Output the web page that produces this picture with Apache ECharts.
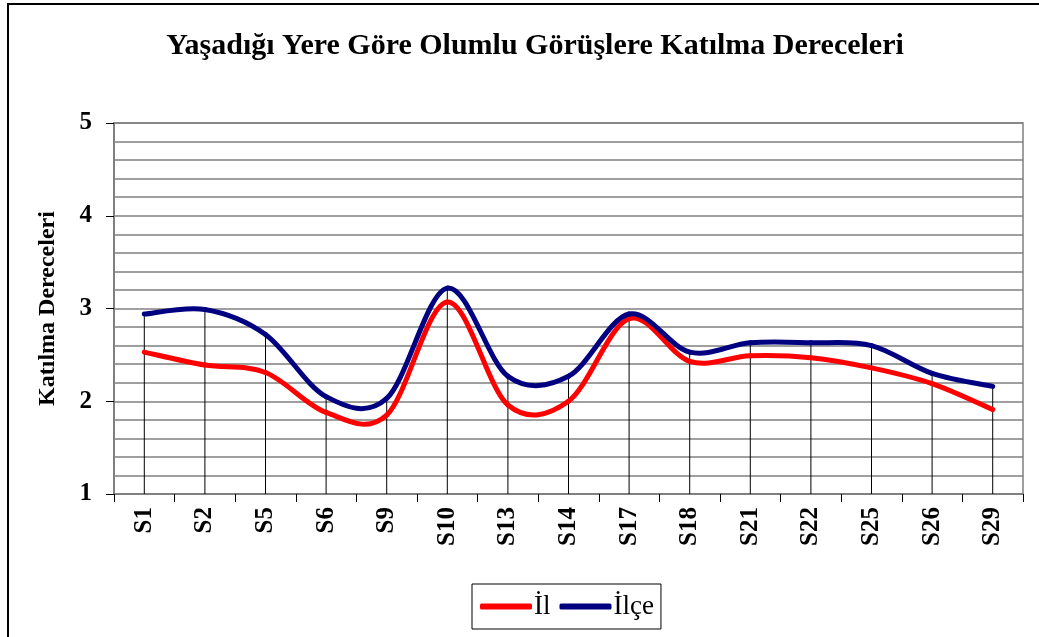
<!DOCTYPE html>
<html>
<head>
<meta charset="utf-8">
<style>
  html, body { margin: 0; padding: 0; background: #fff; }
  #chart { width: 1039px; height: 637px; }
</style>
<script src="https://cdn.jsdelivr.net/npm/echarts@6/dist/echarts.min.js"></script>
</head>
<body>
<div id="chart"></div>
<script>
// soru kodlari (x ekseni)
const categories = ['S1', 'S2', 'S5', 'S6', 'S9', 'S10', 'S13', 'S14', 'S17', 'S18', 'S21', 'S22', 'S25', 'S26', 'S29'];
// ortalama katilma dereceleri
const ilValues = [2.53, 2.39, 2.31, 1.88, 1.85, 3.07, 1.96, 2.0, 2.89, 2.43, 2.49, 2.47, 2.36, 2.19, 1.91];
const ilceValues = [2.94, 2.99, 2.72, 2.05, 2.03, 3.22, 2.27, 2.27, 2.94, 2.53, 2.63, 2.63, 2.6, 2.3, 2.16];

const serif = 'Liberation Serif';
const chart = echarts.init(document.getElementById('chart'));

// Excel tarzi yumusatma: her parca icin komsu noktalardan bezier egrisi
function smoothLine(values, color) {
    const n = values.length;
    return function (params, api) {
        const i = params.dataIndex;
        if (i >= n - 1) {
            return null;
        }
        const pt = k => {
            const j = Math.max(0, Math.min(n - 1, k));
            return api.coord([j, values[j]]);
        };
        const p0 = pt(i - 1);
        const p1 = pt(i);
        const p2 = pt(i + 1);
        const p3 = pt(i + 2);
        return {
            type: 'bezierCurve',
            shape: {
                x1: p1[0],
                y1: p1[1],
                x2: p2[0],
                y2: p2[1],
                cpx1: p1[0] + (p2[0] - p0[0]) / 6,
                cpy1: p1[1] + (p2[1] - p0[1]) / 6,
                cpx2: p2[0] - (p3[0] - p1[0]) / 6,
                cpy2: p2[1] - (p3[1] - p1[1]) / 6
            },
            style: {
                stroke: color,
                fill: null,
                lineWidth: 5,
                lineCap: 'round'
            }
        };
    };
}

chart.setOption({
    animation: false,
    backgroundColor: '#fff',
    title: {
        text: 'Yaşadığı Yere Göre Olumlu Görüşlere Katılma Dereceleri',
        left: 530,
        top: 26,
        textAlign: 'center',
        textStyle: {
            fontFamily: serif,
            fontWeight: 'bold',
            fontSize: 30,
            color: '#000'
        }
    },
    graphic: [
        {
            type: 'rect',
            shape: { x: 8, y: 4, width: 1060, height: 660 },
            style: { fill: null, stroke: '#000', lineWidth: 2 },
            silent: true
        }
    ],
    legend: {
        data: ['İl', 'İlçe'],
        left: 472,
        top: 584,
        padding: [9, 7, 9, 8],
        borderColor: '#000',
        borderWidth: 1,
        itemWidth: 52,
        itemHeight: 6,
        itemGap: 9,
        icon: 'roundRect',
        textStyle: {
            fontFamily: serif,
            fontSize: 27,
            color: '#000',
            padding: [0, 0, 0, -3]
        }
    },
    grid: {
        left: 114,
        right: 16,
        top: 123,
        bottom: 143,
        show: true,
        borderColor: '#808080',
        borderWidth: 1.5
    },
    xAxis: {
        type: 'category',
        data: categories,
        boundaryGap: true,
        axisLine: { lineStyle: { color: '#808080', width: 2 } },
        axisTick: { show: true, length: 8, lineStyle: { color: '#000', width: 1 } },
        axisLabel: {
            rotate: 90,
            margin: 13,
            interval: 0,
            fontFamily: serif,
            fontWeight: 'bold',
            fontSize: 25,
            color: '#000'
        },
        splitLine: { show: false }
    },
    yAxis: {
        type: 'value',
        min: 1,
        max: 5,
        interval: 1,
        name: 'Katılma Dereceleri',
        nameLocation: 'middle',
        nameGap: 54,
        nameRotate: 90,
        nameTextStyle: {
            fontFamily: serif,
            fontWeight: 'bold',
            fontSize: 24,
            color: '#000'
        },
        axisLine: { show: true, lineStyle: { color: '#808080', width: 2 } },
        axisTick: { show: true, length: 8, lineStyle: { color: '#000', width: 1 } },
        axisLabel: {
            margin: 22,
            fontFamily: serif,
            fontWeight: 'bold',
            fontSize: 25,
            color: '#000'
        },
        splitLine: { show: true, lineStyle: { color: '#808080', width: 1.5 } },
        minorTick: { show: false, splitNumber: 5 },
        minorSplitLine: { show: true, lineStyle: { color: '#808080', width: 1.5 } }
    },
    series: [
        {
            // dusey cizgiler
            name: 'drop',
            type: 'bar',
            data: ilceValues,
            barWidth: 1,
            itemStyle: { color: '#000' },
            silent: true,
            z: 1
        },
        {
            name: 'İl',
            type: 'custom',
            data: ilValues.map((v, i) => [i, v]),
            encode: { x: 0, y: 1 },
            renderItem: smoothLine(ilValues, '#ff0000'),
            itemStyle: { color: '#ff0000' },
            silent: true,
            z: 3
        },
        {
            name: 'İlçe',
            type: 'custom',
            data: ilceValues.map((v, i) => [i, v]),
            encode: { x: 0, y: 1 },
            renderItem: smoothLine(ilceValues, '#000080'),
            itemStyle: { color: '#000080' },
            silent: true,
            z: 4
        }
    ]
});
</script>
</body>
</html>
